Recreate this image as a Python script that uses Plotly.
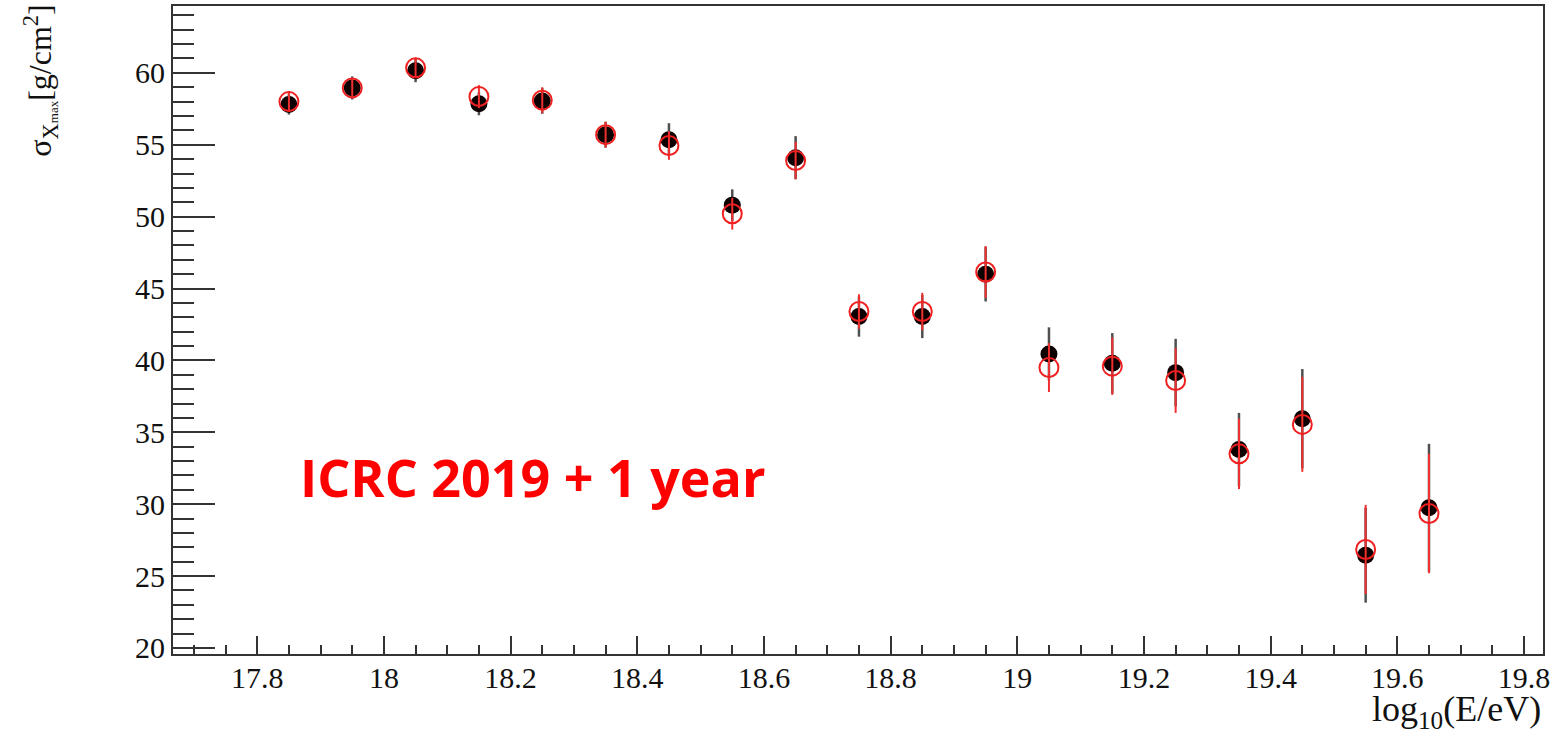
import plotly.graph_objects as go

# ---- data ----
log_e = [17.85, 17.95, 18.05, 18.15, 18.25, 18.35, 18.45, 18.55, 18.65, 18.75,
         18.85, 18.95, 19.05, 19.15, 19.25, 19.35, 19.45, 19.55, 19.65]

sigma_new = [57.8, 58.95, 60.15, 57.85, 58.05, 55.7, 55.35, 50.8, 54.1, 43.05,
             43.05, 46.0, 40.45, 39.8, 39.15, 33.8, 35.95, 26.45, 29.75]
err_new = [0.7, 0.8, 0.8, 0.8, 0.9, 0.9, 1.15, 1.1, 1.5, 1.4,
           1.5, 1.9, 1.85, 2.1, 2.35, 2.55, 3.45, 3.3, 4.45]

sigma_icrc = [58.0, 58.95, 60.35, 58.35, 58.1, 55.7, 54.95, 50.2, 53.9, 43.4,
              43.4, 46.15, 39.5, 39.6, 38.6, 33.5, 35.55, 26.85, 29.35]
err_icrc = [0.7, 0.7, 0.7, 0.8, 0.9, 0.9, 1.0, 1.1, 1.3, 1.2,
            1.3, 1.8, 1.7, 2.0, 2.25, 2.45, 3.3, 3.1, 4.15]

x_tick_vals = [17.8, 18.0, 18.2, 18.4, 18.6, 18.8, 19.0, 19.2, 19.4, 19.6, 19.8]
x_tick_text = ["17.8", "18", "18.2", "18.4", "18.6", "18.8", "19", "19.2", "19.4", "19.6", "19.8"]
y_tick_vals = [20, 25, 30, 35, 40, 45, 50, 55, 60]
y_tick_text = ["20", "25", "30", "35", "40", "45", "50", "55", "60"]

label_text = "ICRC 2019 + 1 year"
label_pos = (18.236, 31.9)

fig = go.Figure()

fig.add_trace(go.Scatter(
    x=log_e, y=sigma_new, mode="markers",
    marker=dict(symbol="circle", size=17, color="#0d0000",
                line=dict(width=0)),
    error_y=dict(type="data", array=err_new, visible=True,
                 color="#505050", thickness=2.5, width=0),
    showlegend=False,
))

fig.add_trace(go.Scatter(
    x=log_e, y=sigma_icrc, mode="markers",
    marker=dict(symbol="circle-open", size=19, color="#f02020",
                line=dict(width=2, color="#f02020")),
    error_y=dict(type="data", array=err_icrc, visible=True,
                 color="#f03030", thickness=2, width=0),
    showlegend=False,
))

serif = "Liberation Serif, Times New Roman, serif"
axis_font = dict(family=serif, size=30, color="#111")

fig.update_xaxes(
    range=[17.667, 19.83], automargin=False,
    tickmode="array", tickvals=x_tick_vals, ticktext=x_tick_text,
    ticks="inside", ticklen=18, tickwidth=2, tickcolor="#333",
    minor=dict(ticks="inside", ticklen=9, tickwidth=2, tickcolor="#333",
               dtick=0.05, tick0=17.7, showgrid=False),
    showline=True, linewidth=2, linecolor="#333", mirror=True,
    showgrid=False, zeroline=False,
    tickfont=axis_font, ticklabelstandoff=-4,
)
fig.update_yaxes(
    range=[19.58, 64.65], automargin=False,
    tickmode="array", tickvals=y_tick_vals, ticktext=y_tick_text,
    ticks="inside", ticklen=42, tickwidth=2, tickcolor="#333",
    minor=dict(ticks="inside", ticklen=21, tickwidth=2, tickcolor="#333",
               dtick=1, tick0=20, showgrid=False),
    showline=True, linewidth=2, linecolor="#333", mirror=True,
    showgrid=False, zeroline=False,
    tickfont=axis_font,
)

fig.add_annotation(
    x=label_pos[0], y=label_pos[1], xref="x", yref="y",
    text="<b>" + label_text + "</b>", showarrow=False,
    font=dict(family="Open Sans, sans-serif", size=52, color="#ff0000"),
    xanchor="center", yanchor="middle",
)

fig.add_annotation(
    x=-0.097, y=0.885, xref="paper", yref="paper",
    text="σ<sub>X<span style='font-size:13px'>max</span></sub>[g/cm<sup>2</sup>]",
    showarrow=False, textangle=-90,
    font=dict(family=serif, size=32, color="#111"),
    xanchor="center", yanchor="middle",
)

fig.add_annotation(
    x=1.0, y=-0.051, xref="paper", yref="paper",
    text="log<sub>10</sub>(E/eV)", showarrow=False,
    font=dict(family=serif, size=36, color="#111"),
    xanchor="right", yanchor="top",
)

fig.update_layout(
    width=1552, height=738,
    margin=dict(l=173, r=9, t=6, b=84),
    paper_bgcolor="white", plot_bgcolor="white",
)

fig.write_html("out.html", config={"displayModeBar": False},
               post_script="document.body.style.margin='0px';document.body.style.padding='0px';")
